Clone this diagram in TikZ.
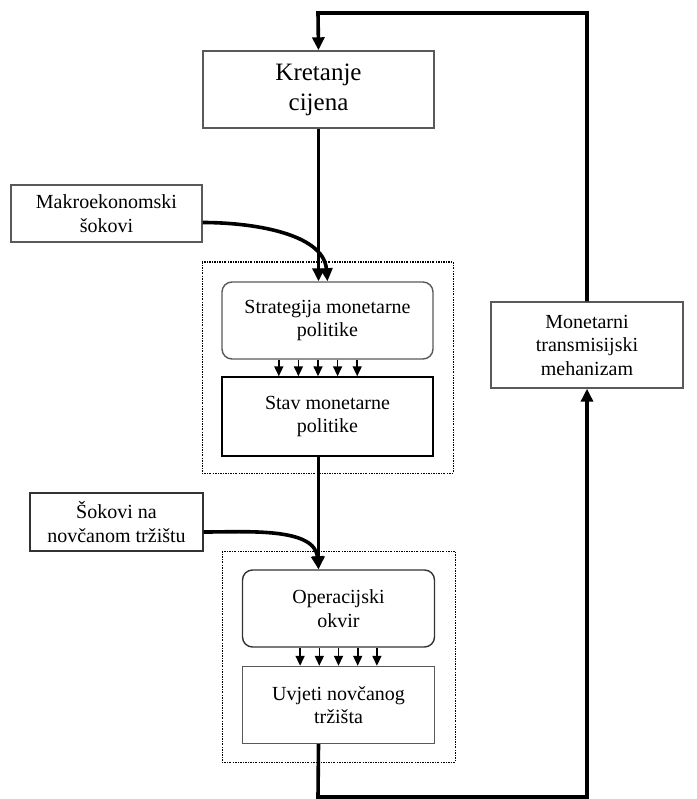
\documentclass[tikz,border=0pt]{standalone}
\usepackage{fontspec}
\setmainfont{Liberation Serif}
\usetikzlibrary{arrows.meta}
\usetikzlibrary{calc}
\tikzset{>={Triangle[width=12pt,length=13pt]}}
\tikzset{box/.style={draw=black!65, line width=1.4pt, align=center, inner sep=0pt, font=\fontsize{20}{23.5}\selectfont}}
\tikzset{roundbox/.style={box, rounded corners=10pt}}
\tikzset{frame/.style={draw, line width=1pt, dash pattern=on 2pt off 1.2pt on 0.8pt off 1.2pt}}
\tikzset{flow/.style={->, line width=3.6pt}}
\tikzset{small/.style={-{Triangle[width=9pt,length=10pt]}, line width=1.6pt}}

\begin{document}
\begin{tikzpicture}[x=1pt,y=-1pt]
		\useasboundingbox (0,0) rectangle (696,799);
		\begin{scope}
			%frames
			\draw [frame] (202,262) rectangle (453,473);
			\draw [frame] (222,551) rectangle (455,762);
		\end{scope}
		\begin{scope}
			%boxes
			\node [box, minimum width=231pt, minimum height=77pt, font=\fontsize{25}{30}\selectfont] (kretanje) at (318.5,89.5) {Kretanje\\cijena};
			\node [box, minimum width=191pt, minimum height=57pt] (makro) at (106.5,213.5) {Makroekonomski\\šokovi};
			\node [roundbox, minimum width=211pt, minimum height=77pt] (strat) at (327.5,320.5) {Strategija monetarne\\politike};
			\node [box, draw=black, minimum width=211pt, minimum height=79pt] (stav) at (327.5,416.5) {Stav monetarne\\politike};
			\node [box, draw=black!80, minimum width=173pt, minimum height=58pt] (sokovi) at (116.5,522) {Šokovi na\\novčanom tržištu};
			\node [roundbox, draw=black!80, minimum width=192pt, minimum height=77pt] (oper) at (338.5,608.5) {Operacijski\\okvir};
			\node [box, minimum width=192pt, minimum height=77pt] (uvjeti) at (338.5,705) {Uvjeti novčanog\\tržišta};
			\node [box, minimum width=192pt, minimum height=86pt] (monet) at (587,345) {Monetarni\\transmisijski\\mehanizam};
		\end{scope}
		\begin{scope}
			%corners of the loop
			\coordinate (topleft) at (318,13);
			\coordinate (topright) at (587,13);
			\coordinate (botleft) at (318,797);
			\coordinate (botright) at (587,797);
			\coordinate (stratin) at (kretanje.south |- strat.north);
			\coordinate (stavout) at (kretanje.south |- stav.south);
			\coordinate (operin) at (kretanje.south |- oper.north);
			\coordinate (uvjetiout) at (kretanje.south |- uvjeti.south);
			%feedback loop
			\draw [flow] (monet.north) -- (topright) -- (topleft) -- (kretanje.north);
			\draw [flow] (uvjetiout) -- (botleft) -- (botright) -- (monet.south);
			%main line
			\draw [flow] (kretanje.south) -- (stratin);
			\draw [flow] (stavout) -- (operin);
			%shocks
			\draw [flow] ([yshift=-9pt]makro.east) to[out=0, in=95, looseness=0.9] (strat.north);
			\draw [flow] ([yshift=-10pt]sokovi.east) to[out=0, in=95, looseness=0.9] (operin);
			%small arrows
			\foreach \d in {-2,...,2} {
				\draw [small] ([xshift=\d*19.6pt-9.5pt]strat.south) -- ([xshift=\d*19.6pt-9.5pt]stav.north);
				\draw [small] ([xshift=\d*19.2pt]oper.south) -- ([xshift=\d*19.2pt]uvjeti.north);
			}
		\end{scope}
	\end{tikzpicture}
\end{document}
